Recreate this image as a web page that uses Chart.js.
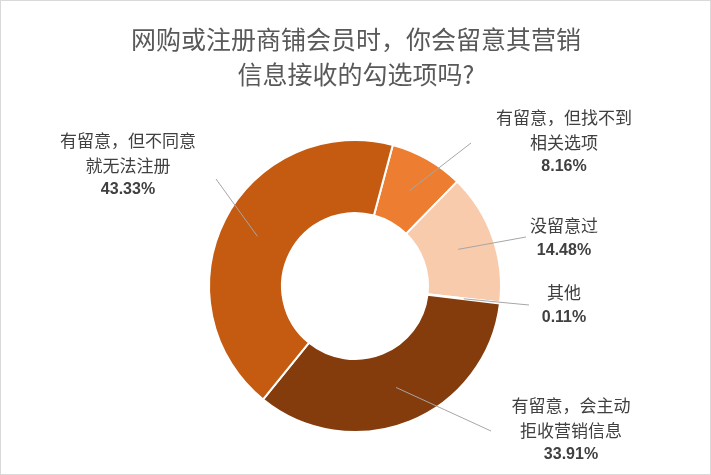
<!DOCTYPE html>
<html><head><meta charset="utf-8">
<script src="https://cdn.jsdelivr.net/npm/chart.js@4/dist/chart.umd.min.js"></script>
<style>body{margin:0;background:#fff}#wrap{width:709px;height:473px;border:1px solid #d9d9d9;position:relative}</style>
</head><body><div id="wrap"><canvas id="myChart" width="709" height="473"></canvas></div>
<script>
// data
const categories = ['有留意，但找不到相关选项', '没留意过', '其他', '有留意，会主动拒收营销信息', '有留意，但不同意就无法注册'];
const values = [8.16, 14.48, 0.11, 33.91, 43.33];
const labelLines = [['有留意，但找不到', '相关选项'], ['没留意过'], ['其他'], ['有留意，会主动', '拒收营销信息'], ['有留意，但不同意', '就无法注册']];
const colors = ['#ED7D31', '#F8CBAD', '#F4B183', '#843C0C', '#C55A11'];

// where each label block sits and where its leader line ends
const labelPos = [
  { x: 563, y: 117, lx: 470, ly: 142 },
  { x: 563, y: 225, lx: 525, ly: 236 },
  { x: 563, y: 292, lx: 528, ly: 304 },
  { x: 570, y: 405, lx: 490, ly: 430 },
  { x: 127, y: 140, lx: 215, ly: 178 }
];

const calloutPlugin = {
  id: 'callouts',
  afterDraw(chart) {
    const ctx = chart.ctx;
    ctx.save();
    // title
    ctx.fillStyle = '#595959';
    ctx.font = '25px "Noto Sans CJK SC"';
    ctx.textAlign = 'center';
    ctx.textBaseline = 'middle';
    ctx.fillText('网购或注册商铺会员时，你会留意其营销', 355, 38);
    ctx.fillText('信息接收的勾选项吗?', 355, 73);

    const meta = chart.getDatasetMeta(0);
    meta.data.forEach((arc, i) => {
      const p = arc.getCenterPoint();
      const pos = labelPos[i];
      ctx.strokeStyle = '#a6a6a6';
      ctx.lineWidth = 1;
      ctx.beginPath();
      ctx.moveTo(p.x, p.y);
      ctx.lineTo(pos.lx, pos.ly);
      ctx.stroke();
      ctx.fillStyle = '#404040';
      ctx.font = '17px "Noto Sans CJK SC"';
      let y = pos.y;
      labelLines[i].forEach(t => { ctx.fillText(t, pos.x, y); y += 24.5; });
      ctx.font = 'bold 16px "Liberation Sans"';
      ctx.fillText(values[i].toFixed(2) + '%', pos.x, y);
    });
    ctx.restore();
  }
};

const ctx = document.getElementById('myChart').getContext('2d');
const myChart = new Chart(ctx, {
  type: 'doughnut',
  data: {
    labels: categories,
    datasets: [{ data: values, backgroundColor: colors, borderColor: '#fff', borderWidth: 2 }]
  },
  options: {
    responsive: false,
    animation: false,
    rotation: 15,
    cutout: '50%',
    layout: { padding: { top: 138, bottom: 41, left: 207, right: 208 } },
    plugins: { legend: { display: false }, tooltip: { enabled: false } }
  },
  plugins: [calloutPlugin]
});
</script>
</body></html>
